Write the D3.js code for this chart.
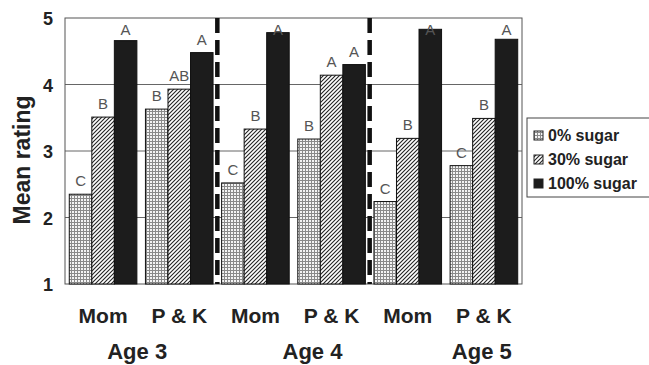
<!DOCTYPE html>
<html lang="en">
<head>
  <meta charset="UTF-8">
  <title>Mean rating by sugar level</title>
  <script src="https://d3js.org/d3.v7.min.js"></script>
  <style>
    body { margin: 0; background: #fff; }
    svg { display: block; font-family: Arial, "Liberation Sans", sans-serif; }
  </style>
</head>
<body>
<div id="chart"></div>
<script>
  // data
  const groups = ["Mom", "P & K", "Mom", "P & K", "Mom", "P & K"];
  const ages = ["Age 3", "Age 4", "Age 5"];
  const series = ["0% sugar", "30% sugar", "100% sugar"];
  const sugar0 = [2.35, 3.63, 2.52, 3.18, 2.24, 2.78];
  const sugar30 = [3.51, 3.93, 3.33, 4.14, 3.19, 3.49];
  const sugar100 = [4.66, 4.48, 4.78, 4.30, 4.83, 4.68];
  const letters0 = ["C", "B", "C", "B", "C", "C"];
  const letters30 = ["B", "AB", "B", "A", "B", "B"];
  const letters100 = ["A", "A", "A", "A", "A", "A"];
  const yTicks = [1, 2, 3, 4, 5];

  const width = 649, height = 365;
  const margin = { top: 18, right: 127, bottom: 81, left: 65 };
  const plotW = width - margin.left - margin.right;
  const plotH = height - margin.top - margin.bottom;

  const svg = d3.select("#chart").append("svg").attr("width", width).attr("height", height);

  // patterns
  const defs = svg.append("defs");
  const grid = defs.append("pattern").attr("id", "pGrid")
    .attr("patternUnits", "userSpaceOnUse").attr("width", 3).attr("height", 3);
  grid.append("rect").attr("width", 3).attr("height", 3).attr("fill", "#f4f4f4");
  grid.append("path").attr("d", "M0,0.5H3M0.5,0V3").attr("stroke", "#8a8a8a").attr("stroke-width", 1);

  const hatch = defs.append("pattern").attr("id", "pHatch")
    .attr("patternUnits", "userSpaceOnUse").attr("width", 4).attr("height", 4);
  hatch.append("rect").attr("width", 4).attr("height", 4).attr("fill", "#fff");
  hatch.append("path").attr("d", "M-1,1L1,-1M0,4L4,0M3,5L5,3")
    .attr("stroke", "#222").attr("stroke-width", 1.1);

  const fills = ["url(#pGrid)", "url(#pHatch)", "#1c1c1c"];
  const values = [sugar0, sugar30, sugar100];
  const letters = [letters0, letters30, letters100];

  const g = svg.append("g").attr("transform", `translate(${margin.left},${margin.top})`);

  const x0 = d3.scaleBand().domain(d3.range(groups.length)).range([0, plotW]).padding(0);
  const x1 = d3.scaleBand().domain(d3.range(series.length)).range([0, x0.bandwidth()])
    .paddingInner(0).paddingOuter(0.19);
  const y = d3.scaleLinear().domain([1, 5]).range([plotH, 0]);

  // grid lines
  g.append("g").selectAll("line").data(yTicks.slice(1, -1)).join("line")
    .attr("x1", 0).attr("x2", plotW)
    .attr("y1", d => y(d)).attr("y2", d => y(d))
    .attr("stroke", "#666").attr("stroke-width", 1);

  // frame
  g.append("rect").attr("x", 0).attr("y", 0).attr("width", plotW).attr("height", plotH)
    .attr("fill", "none").attr("stroke", "#555").attr("stroke-width", 1);

  // bars
  const bars = [];
  groups.forEach((grp, i) => {
    series.forEach((s, j) => {
      bars.push({ i, j, v: values[j][i], label: letters[j][i] });
    });
  });

  g.append("g").selectAll("rect").data(bars).join("rect")
    .attr("x", d => x0(d.i) + x1(d.j))
    .attr("y", d => y(d.v))
    .attr("width", x1.bandwidth())
    .attr("height", d => y(1) - y(d.v))
    .attr("fill", d => fills[d.j])
    .attr("stroke", "#111").attr("stroke-width", 1);

  // significance letters
  g.append("g").selectAll("text").data(bars).join("text")
    .attr("x", d => x0(d.i) + x1(d.j) + x1.bandwidth() / 2)
    .attr("y", d => Math.max(y(d.v) - 8, 17))
    .attr("text-anchor", "middle")
    .attr("font-size", 15).attr("fill", "#555")
    .text(d => d.label);

  // dashed separators between ages
  g.append("g").selectAll("line").data([2, 4]).join("line")
    .attr("x1", d => x0(d)).attr("x2", d => x0(d))
    .attr("y1", 0).attr("y2", plotH)
    .attr("stroke", "#111").attr("stroke-width", 4.5)
    .attr("stroke-dasharray", "15,7");

  // y axis
  const yAxis = g.append("g")
    .call(d3.axisLeft(y).tickValues(yTicks).tickSize(0).tickPadding(12).tickFormat(d3.format("d")));
  yAxis.select(".domain").remove();
  yAxis.selectAll("text").attr("font-size", 18).attr("font-weight", "bold")
    .attr("fill", "#222").attr("font-family", "Arial, 'Liberation Sans', sans-serif")
    .attr("dy", "0.38em");

  svg.append("text")
    .attr("transform", `translate(30,${margin.top + 142}) rotate(-90)`)
    .attr("text-anchor", "middle")
    .attr("font-size", 23).attr("font-weight", "bold").attr("fill", "#222")
    .text("Mean rating");

  // x axis: sub-groups
  const xAxis = g.append("g").attr("transform", `translate(0,${plotH})`)
    .call(d3.axisBottom(x0).tickSize(0).tickPadding(24).tickFormat(i => groups[i]));
  xAxis.select(".domain").remove();
  xAxis.selectAll("text").attr("font-size", 21).attr("font-weight", "bold")
    .attr("fill", "#222").attr("font-family", "Arial, 'Liberation Sans', sans-serif");

  // age labels (placed under each pair, slightly shifted as in the figure)
  const ageShift = [-4, 19, 36];
  g.append("g").selectAll("text").data(ages).join("text")
    .attr("x", (d, k) => x0(2 * k + 1) + ageShift[k])
    .attr("y", plotH + 75)
    .attr("text-anchor", "middle")
    .attr("font-size", 22).attr("font-weight", "bold").attr("fill", "#222")
    .text(d => d);

  // legend
  const lg = svg.append("g").attr("transform", "translate(527,118)");
  lg.append("rect").attr("width", 140).attr("height", 79)
    .attr("fill", "#fff").attr("stroke", "#444").attr("stroke-width", 1);
  const item = lg.selectAll("g").data(series).join("g")
    .attr("transform", (d, k) => `translate(7,${23 + k * 24})`);
  item.append("rect").attr("x", 0).attr("y", -10).attr("width", 9).attr("height", 9)
    .attr("fill", (d, k) => fills[k]).attr("stroke", "#222").attr("stroke-width", 1);
  item.append("text").attr("x", 14).attr("y", 0)
    .attr("font-size", 16).attr("font-weight", "bold").attr("fill", "#222")
    .text(d => d);
</script>
</body>
</html>
